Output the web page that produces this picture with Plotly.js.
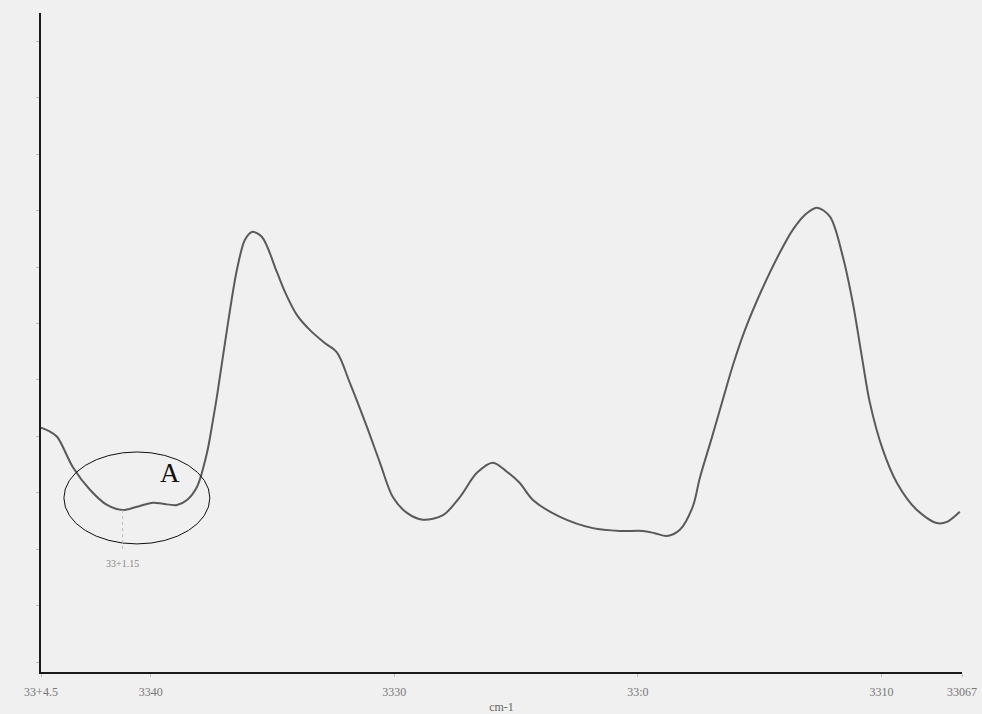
<!DOCTYPE html>
<html>
<head>
<meta charset="utf-8">
<script src="https://cdn.plot.ly/plotly-3.0.1.min.js"></script>
<style>
  html, body { margin: 0; padding: 0; background: #f0f0f0; }
  #chart { width: 982px; height: 714px; }
</style>
</head>
<body>
<div id="chart"></div>
<script>
// Wavenumber (cm-1) and relative absorbance
const wavenumber = [
  3344.50, 3344.17, 3343.84, 3343.19, 3342.49, 3341.79, 3341.15, 3340.56, 3339.90, 3339.49,
  3338.92, 3338.51, 3338.10, 3337.69, 3337.44, 3337.28, 3336.87, 3336.46, 3336.13, 3335.84,
  3335.43, 3334.82, 3334.49, 3334.00, 3333.46, 3332.85, 3332.35, 3331.82, 3331.12, 3330.59,
  3330.06, 3329.48, 3328.83, 3328.00, 3327.31, 3326.61, 3325.95, 3325.38, 3324.85, 3324.31,
  3323.20, 3321.85, 3320.74, 3319.80, 3319.31, 3318.81, 3318.28, 3317.75, 3317.46, 3316.97,
  3316.52, 3316.10, 3315.61, 3314.92, 3314.18, 3313.64, 3313.15, 3312.66, 3312.12, 3311.59,
  3311.18, 3310.81, 3310.48, 3309.95, 3309.37, 3308.55, 3307.73, 3307.32, 3306.79
];
const absorbance = [
  4.33, 4.27, 4.17, 3.63, 3.23, 2.96, 2.87, 2.93, 3.00, 2.98,
  2.96, 3.05, 3.28, 3.88, 4.47, 4.88, 6.06, 7.13, 7.66, 7.80,
  7.71, 7.09, 6.74, 6.33, 6.06, 5.83, 5.66, 5.12, 4.34, 3.71,
  3.10, 2.82, 2.70, 2.78, 3.10, 3.53, 3.71, 3.55, 3.35, 3.05,
  2.75, 2.55, 2.50, 2.50, 2.46, 2.41, 2.52, 2.93, 3.44, 4.15,
  4.82, 5.44, 6.06, 6.77, 7.43, 7.84, 8.10, 8.23, 8.07, 7.36,
  6.54, 5.59, 4.77, 3.94, 3.35, 2.87, 2.64, 2.66, 2.84
];

// Axis ticks as printed
const xTickVals = [3344.5, 3340, 3330, 3320, 3310, 3306.7];
const xTickText = ["33+4.5", "3340", "3330", "33:0", "3310", "33067"];
const xTitle = "cm-1";

// Marked minimum and region label
const markedPeak = 3341.15;
const markedPeakAbs = 2.87;
const markedLabel = "33+1.15";
const regionLabel = "A";
const regionX = [3343.56, 3337.57];
const regionY = [2.27, 3.90];

const trace = {
  x: wavenumber,
  y: absorbance,
  type: 'scatter',
  mode: 'lines',
  line: { color: '#5a5a5a', width: 2, shape: 'spline', smoothing: 0.9 },
  hoverinfo: 'skip',
  showlegend: false
};

const serif = '"Liberation Serif", "DejaVu Serif", serif';

const layout = {
  width: 982,
  height: 714,
  margin: { l: 41, r: 20, t: 13, b: 42 },
  paper_bgcolor: '#f0f0f0',
  plot_bgcolor: '#f0f0f0',
  showlegend: false,
  xaxis: {
    range: [3344.5, 3306.7],
    tickvals: xTickVals,
    ticktext: xTickText,
    showgrid: false,
    zeroline: false,
    showline: true,
    linecolor: '#1a1a1a',
    linewidth: 2,
    ticks: 'outside',
    ticklen: 3,
    tickcolor: '#bbbbbb',
    ticklabelstandoff: 5,
    tickfont: { family: serif, size: 12, color: '#777777' },
    title: { text: xTitle, font: { family: serif, size: 12, color: '#666666' }, standoff: 10 }
  },
  yaxis: {
    range: [0, 11.68],
    tick0: 0.177,
    dtick: 1,
    showticklabels: false,
    showgrid: false,
    zeroline: false,
    showline: true,
    linecolor: '#1a1a1a',
    linewidth: 2,
    ticks: 'outside',
    ticklen: 3,
    tickcolor: '#bbbbbb'
  },
  shapes: [
    {
      type: 'circle', xref: 'x', yref: 'y',
      x0: regionX[0], x1: regionX[1], y0: regionY[0], y1: regionY[1],
      line: { color: '#111111', width: 1 }
    },
    {
      type: 'line', xref: 'x', yref: 'y',
      x0: markedPeak, x1: markedPeak, y0: markedPeakAbs, y1: 2.16,
      line: { color: '#bbbbbb', width: 1, dash: 'dot' }
    }
  ],
  annotations: [
    {
      x: markedPeak, y: 1.93, xref: 'x', yref: 'y',
      text: markedLabel, showarrow: false,
      font: { family: serif, size: 10, color: '#888888' }
    },
    {
      x: 3339.21, y: 3.53, xref: 'x', yref: 'y',
      text: regionLabel, showarrow: false,
      font: { family: serif, size: 27, color: '#111111' }
    }
  ]
};

Plotly.newPlot('chart', [trace], layout, { staticPlot: true, displayModeBar: false });
</script>
</body>
</html>
